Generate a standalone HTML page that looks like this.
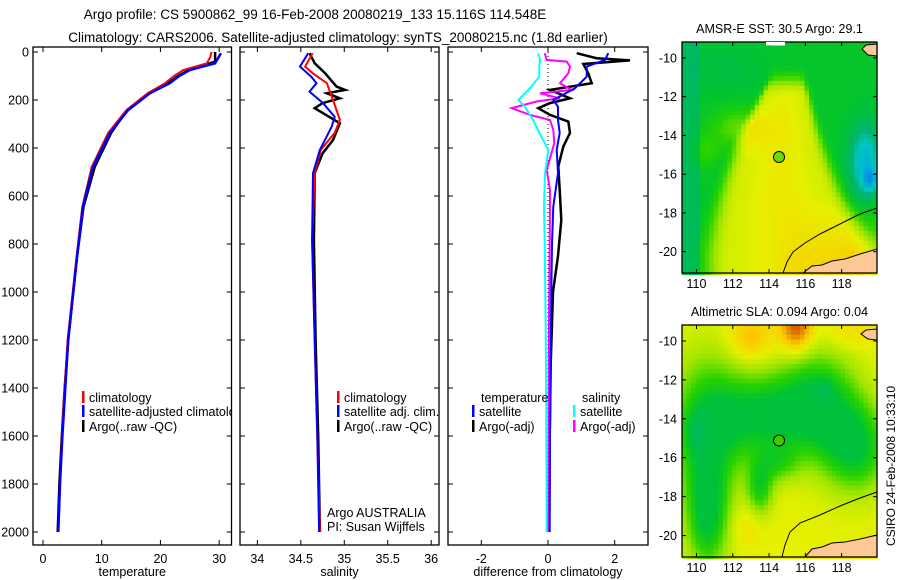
<!DOCTYPE html>
<html><head><meta charset="utf-8"><style>
body{margin:0;background:#fff;}
svg{display:block;font-family:"Liberation Sans",sans-serif;}
text{fill:#000;}
</style></head><body>
<svg id="fig" width="900" height="580" viewBox="0 0 900 580" xmlns="http://www.w3.org/2000/svg">
<defs><clipPath id="clip1"><rect x="33" y="47" width="198.5" height="498"/></clipPath></defs>
<text x="315" y="19" font-size="13.5" text-anchor="middle">Argo profile: CS 5900862_99 16-Feb-2008 20080219_133 15.116S 114.548E</text>
<text x="338" y="42" font-size="13.5" text-anchor="middle">Climatology: CARS2006. Satellite-adjusted climatology: synTS_20080215.nc (1.8d earlier)</text>
<g id="panels"></g>
<g id="maps"></g>
<text x="0" y="0" font-size="12" text-anchor="middle" transform="translate(895,466) rotate(-90)">CSIRO 24-Feb-2008 10:33:10</text>
</svg>
<script>
// ---- data ----
const tDepthRed=[0,20,47,75,100,130,172,242,337,479,645,854,1200,1400,1600,1800,2000];
const tRed=[28.7,28.5,27.9,23.9,22.3,20.8,17.8,14.2,11.1,8.3,6.7,5.7,4.2,3.7,3.2,2.9,2.6];
const tDepthBlue=[5,47,75,100,130,172,242,337,479,645,854,1200,1400,1600,1800,2000];
const tBlue=[30.3,29.3,25.0,23.2,21.6,18.2,14.5,11.4,8.5,6.8,5.8,4.3,3.8,3.3,2.9,2.6];
const tDepthBlack=[0,40,75,100,130,172,242,337,479,645,854,1200,1400,1600,1800,2000];
const tBlack=[29.3,29.3,24.8,23.0,21.3,18.0,14.3,11.6,8.8,6.9,5.8,4.3,3.7,3.2,2.8,2.5];

const sDepthRed=[5,61,89,130,200,283,337,408,505,783,1200,1600,2000];
const sRed=[34.635,34.55,34.64,34.8,34.87,34.95,34.89,34.73,34.66,34.63,34.66,34.69,34.72];
const sDepthBlue=[5,61,103,130,165,213,270,311,408,505,783,1200,1600,2000];
const sBlue=[34.585,34.49,34.62,34.68,34.6,34.755,34.89,34.855,34.72,34.64,34.63,34.66,34.69,34.71];
const sDepthBlack=[5,47,89,144,158,172,193,213,234,262,297,367,422,505,783,1200,1600,2000];
const sBlack=[34.6,34.66,34.78,34.91,35.01,34.8,34.95,34.75,34.66,34.79,34.95,34.87,34.75,34.66,34.65,34.67,34.70,34.72];

const dDepth=[5,33,61,103,151,200,228,283,337,408,505,644,800,1000,1300,1600,2000];
const dTempSat=[1.81,1.71,1.16,1.16,0.81,0.16,0.3,0.3,0.35,0.26,0.3,0.16,0.12,0.1,0.08,0.06,0.05];
const dDepthTA=[5,26,35,50,89,130,158,193,213,234,262,290,337,394,477,575,700,850,1000,1300,1600,2000];
const dTempArgo=[0.86,1.46,2.46,1.06,1.21,1.31,0.06,0.66,0.06,-0.29,0.06,0.61,0.66,0.46,0.31,0.35,0.4,0.3,0.15,0.08,0.05,0.03];
const dSalSat=[-0.29,-0.24,-0.26,-0.26,-0.54,-0.89,-0.69,-0.45,-0.26,0.01,-0.09,-0.12,-0.1,-0.08,-0.06,-0.05,-0.04];
const dDepthSA=[5,33,40,61,89,130,158,172,193,206,234,262,283,325,380,491,575,800,1100,1500,2000];
const dSalArgo=[-0.1,-0.04,0.56,0.66,0.61,0.36,0.71,-0.24,0.36,-0.33,-1.09,-0.54,0.06,0.16,0.19,-0.04,0.06,0.05,0.03,0.02,0.02];

const depthTicks=[0,200,400,600,800,1000,1200,1400,1600,1800,2000];
const tempTicks=[0,10,20,30];
const salTicks=[34,34.5,35,35.5,36];
const salTickLabels=["34","34.5","35","35.5","36"];
const diffTicks=[-2,0,2];
const lonTicks=[110,112,114,116,118];
const latTicks=[-10,-12,-14,-16,-18,-20];
const argoLon=114.548, argoLat=-15.116;

const NS="http://www.w3.org/2000/svg";
function el(tag,attrs,parent){const e=document.createElementNS(NS,tag);for(const k in attrs)e.setAttribute(k,attrs[k]);parent.appendChild(e);return e;}
const panelsG=document.getElementById('panels');
const yTop=47,yBot=545;
const yScale=d=>52+d*0.24;

function makePanel(name,x0,x1,xmin,xmax,ticks,tickLabels,xlabel,showY){
  const g=el('g',{},panelsG);
  
  
  const xs=v=>x0+(v-xmin)/(xmax-xmin)*(x1-x0);
  ticks.forEach((t,i)=>{
    const x=xs(t);
    el('line',{x1:x,x2:x,y1:yTop,y2:yTop+5,stroke:'#000'},g);
    el('line',{x1:x,x2:x,y1:yBot,y2:yBot-5,stroke:'#000'},g);
    const tx=el('text',{x:x,y:yBot+18,'font-size':12.5,'text-anchor':'middle'},g);
    tx.textContent=tickLabels[i];
    
    
  });
  depthTicks.forEach(d=>{
    const y=yScale(d);
    el('line',{x1:x0,x2:x0+5,y1:y,y2:y,stroke:'#000'},g);
    el('line',{x1:x1,x2:x1-5,y1:y,y2:y,stroke:'#000'},g);
    if(showY){
      const tx=el('text',{x:x0-4,y:y+4.5,'font-size':12.5,'text-anchor':'end'},g);
      tx.textContent=d;
      
      
    }
  });
  const lab=el('text',{x:(x0+x1)/2,y:yBot+31,'font-size':12.5,'text-anchor':'middle'},g);
  lab.textContent=xlabel;
  
  
  return {g,xs,x0,x1};
}
function line(p,depths,vals,color,name,w){
  const pts=depths.map((d,i)=>p.xs(vals[i]).toFixed(1)+','+yScale(d).toFixed(1)).join(' ');
  const pl=el('polyline',{points:pts,fill:'none',stroke:color,'stroke-width':w||2,'stroke-linejoin':'miter'},p.g);
  
  
}
function frame(p){
  const r=el('rect',{x:p.x0,y:yTop,width:p.x1-p.x0,height:yBot-yTop,fill:'none',stroke:'#000','stroke-width':1.3},p.g);
  
  
}
function legend(p,x,y,color,label,clip){
  if(color){
    const b=el('rect',{x:x,y:y-11,width:2.5,height:12,fill:color},p.g);
    
    
  }
  const t=el('text',{x:x+7,y:y,'font-size':12.5},p.g);
  if(clip) t.setAttribute('clip-path','url(#clip1)');
  t.textContent=label;
  
  
}

// Temperature panel
const p1=makePanel('temperature-panel',33,231.5,-1.7,32.1,tempTicks,tempTicks.map(String),'temperature',true);
line(p1,tDepthBlack,tBlack,'#000','argo-temperature-line',2.5);
line(p1,tDepthRed,tRed,'#f00','climatology-temperature-line');
line(p1,tDepthBlue,tBlue,'#00f','satellite-adjusted-temperature-line',2.5);
frame(p1);
legend(p1,82,402,'#f00','climatology');
legend(p1,82,416,'#00f','satellite-adjusted climatology',true);
legend(p1,82,431,'#000','Argo(..raw -QC)');

// Salinity panel
const p2=makePanel('salinity-panel',240,439,33.8,36.09,salTicks,salTickLabels,'salinity',false);
line(p2,sDepthBlack,sBlack,'#000','argo-salinity-line',2.5);
line(p2,sDepthRed,sRed,'#f00','climatology-salinity-line');
line(p2,sDepthBlue,sBlue,'#00f','satellite-adjusted-salinity-line');
frame(p2);
legend(p2,337,402,'#f00','climatology');
legend(p2,337,416,'#00f','satellite adj. clim.');
legend(p2,337,431,'#000','Argo(..raw -QC)');
legend(p2,320,517,null,'Argo AUSTRALIA');
legend(p2,320,531,null,'PI: Susan Wijffels');

// Difference panel
const p3=makePanel('difference-panel',448,648,-3,3,diffTicks,diffTicks.map(String),'difference from climatology',false);
const zl=el('line',{x1:p3.xs(0),x2:p3.xs(0),y1:yScale(0),y2:yScale(2000),stroke:'#000','stroke-dasharray':'1,3'},p3.g);


line(p3,dDepthTA,dTempArgo,'#000','argo-temperature-difference-line',2.5);
line(p3,dDepthSA,dSalArgo,'#f0f','argo-salinity-difference-line');
line(p3,dDepth,dSalSat,'#0ff','satellite-salinity-difference-line');
line(p3,dDepth,dTempSat,'#00f','satellite-temperature-difference-line');
frame(p3);
legend(p3,474,402,null,'temperature');
legend(p3,472,416,'#00f','satellite');
legend(p3,472,431,'#000','Argo(-adj)');
legend(p3,575,402,null,'salinity');
legend(p3,573,416,'#0ff','satellite');
legend(p3,573,431,'#f0f','Argo(-adj)');

// ---- maps ----
const stops=[[0,[0,40,200]],[0.15,[0,150,230]],[0.25,[0,200,200]],[0.32,[0,180,110]],[0.4,[0,195,50]],[0.47,[40,210,0]],[0.55,[160,230,0]],[0.63,[230,240,0]],[0.72,[250,205,0]],[0.82,[230,130,0]],[0.9,[200,60,0]],[1,[160,0,0]]];
function cmap(v){v=Math.max(0,Math.min(1,v));for(let i=1;i<stops.length;i++){if(v<=stops[i][0]){const a=stops[i-1],b=stops[i];const t=(v-a[0])/(b[0]-a[0]);return 'rgb('+a[1].map((c,k)=>Math.round(c+(b[1][k]-c)*t)).join(',')+')';}}return 'rgb(160,0,0)';}
const gs=(x,y,cx,cy,sx,sy)=>Math.exp(-((x-cx)*(x-cx)/(2*sx*sx)+(y-cy)*(y-cy)/(2*sy*sy)));
const sm=(a,b,x)=>{let t=Math.max(0,Math.min(1,(x-a)/(b-a)));return t*t*(3-2*t);};
function sst(lon,lat){
  let v=0.41;
  const t=Math.max(0,Math.min(1,(-11.0-lat)/9));
  const c=115.0-0.5*Math.sin(t*3)+0.2*t, w=0.9+3.4*t;
  const d=Math.abs(lon-c)/w;
  v+=0.2*sm(1.3,0.75,d)*sm(-10.3,-12,lat)+0.04*sm(0.8,0,d)*sm(-11,-13,lat);
  v+=0.16*Math.max(0,(-lat-17)/4)*Math.max(0,(lon-114)/6);
  v+=0.1*gs(lon,lat,112.3,-13.6,1,0.7);
  v+=0.06*gs(lon,lat,110.5,-14.8,0.6,0.6);
  v-=0.2*gs(lon,lat,119.3,-15.3,0.6,1.3);
  v-=0.14*gs(lon,lat,119.6,-16.3,0.3,0.4);
  if(lon<110.3) v-=0.06;
  v-=0.03*gs(lon,lat,111.5,-10.5,1.5,1);
  return v;
}
function sla(lon,lat){
  let g=0;
  g+=gs(lon,lat,110.6,-14.5,1.4,2.6);
  g+=gs(lon,lat,110.6,-19,0.8,2);
  g+=gs(lon,lat,113.8,-13.8,1.8,1.5);
  g+=gs(lon,lat,116.8,-13.2,1.5,1.9);
  g+=gs(lon,lat,118.8,-15.5,1.3,1.6);
  g+=0.8*gs(lon,lat,113.5,-17.6,0.5,1.0);
  g+=0.5*gs(lon,lat,114.5,-16.3,0.8,0.7);
  g=Math.min(1.1,g);
  let v=0.63-0.22*g;
  v-=0.05*gs(lon,lat,109.8,-14.7,0.5,0.8);
  v-=0.03*gs(lon,lat,117,-12.5,0.4,0.5);
  v+=0.12*gs(lon,lat,113,-9.8,0.8,0.8);
  v+=0.25*gs(lon,lat,115.5,-9.3,0.6,0.8);
  v+=0.06*gs(lon,lat,118.5,-9.5,1,0.6);
  v+=0.05*gs(lon,lat,112.8,-19.5,0.6,0.8);
  return v;
}
const mapsG=document.getElementById('maps');
function makeMap(name,top,bottom,field,title,coast,land1,land2,markerFill){
  const g=el('g',{},mapsG);
  
  
  const left=682,right=877;
  const lonMin=109.2,lonMax=119.95;
  const yLat=lat=>top+(-9.18-lat)/(21.1-9.18)*(bottom-top);
  const xLon=lon=>left+(lon-lonMin)/(lonMax-lonMin)*(right-left);
  const step=0.25;
  for(let lat=-9.18;lat>-21.1;lat-=step){
    for(let lon=lonMin;lon<lonMax;lon+=step){
      const x=xLon(lon),y=yLat(lat);
      el('rect',{x:x.toFixed(1),y:y.toFixed(1),width:(xLon(lon+step)-x+0.6).toFixed(1),height:(yLat(lat-step)-y+0.6).toFixed(1),fill:cmap(field(lon+step/2,lat-step/2))},g);
    }
  }
  [land1,land2].forEach(pts=>{
    const lp=el('polygon',{points:pts,fill:'#fdc896',stroke:'#000','stroke-width':1},g);
    
    
  });
  const cl=el('polyline',{points:coast,fill:'none',stroke:'#000','stroke-width':1},g);
  
  
  const bx=el('rect',{x:left,y:top,width:right-left,height:bottom-top,fill:'none',stroke:'#000','stroke-width':1.3},g);
  
  
  lonTicks.forEach(l=>{
    const x=xLon(l);
    el('line',{x1:x,x2:x,y1:top,y2:top+4,stroke:'#000'},g);
    el('line',{x1:x,x2:x,y1:bottom,y2:bottom-4,stroke:'#000'},g);
    const t=el('text',{x:x,y:bottom+15,'font-size':12.5,'text-anchor':'middle'},g);
    t.textContent=l;
    
    
  });
  latTicks.forEach(l=>{
    const y=yLat(l);
    el('line',{x1:left,x2:left+4,y1:y,y2:y,stroke:'#000'},g);
    el('line',{x1:right,x2:right-4,y1:y,y2:y,stroke:'#000'},g);
    const t=el('text',{x:left-5,y:y+4.5,'font-size':12.5,'text-anchor':'end'},g);
    t.textContent=l;
    
    
  });
  const c=el('circle',{cx:xLon(argoLon),cy:yLat(argoLat),r:5.5,fill:markerFill,stroke:'#000','stroke-width':1},g);
  
  
  const tt=el('text',{x:(left+right)/2,y:top-9,'font-size':12.5,'text-anchor':'middle'},g);
  tt.textContent=title;
  
  
  return g;
}
const m1=makeMap('sst-map',42,273,sst,'AMSR-E SST: 30.5  Argo: 29.1',
 '877,208 860,214 840,224 820,234 805,243 793,252 787,262 783,273',
 '803,273 812,266 822,265 832,261 845,259 860,254 877,249 877,273',
 '862,49 866,45 877,44 877,56 868,55','rgb(110,220,0)');
const wr=el('rect',{x:766,y:42,width:19,height:3.5,fill:'#fff'},m1);


makeMap('sla-map',325,557,sla,'Altimetric SLA: 0.094  Argo: 0.04',
 '877,492 860,498 840,506 820,515 800,523 790,532 785,545 782,557',
 '805,557 812,549 822,547 832,543 845,542 860,539 877,535 877,557',
 '861,334 866,330 877,329 877,340 868,339','rgb(60,205,0)');
</script>
</body></html>
